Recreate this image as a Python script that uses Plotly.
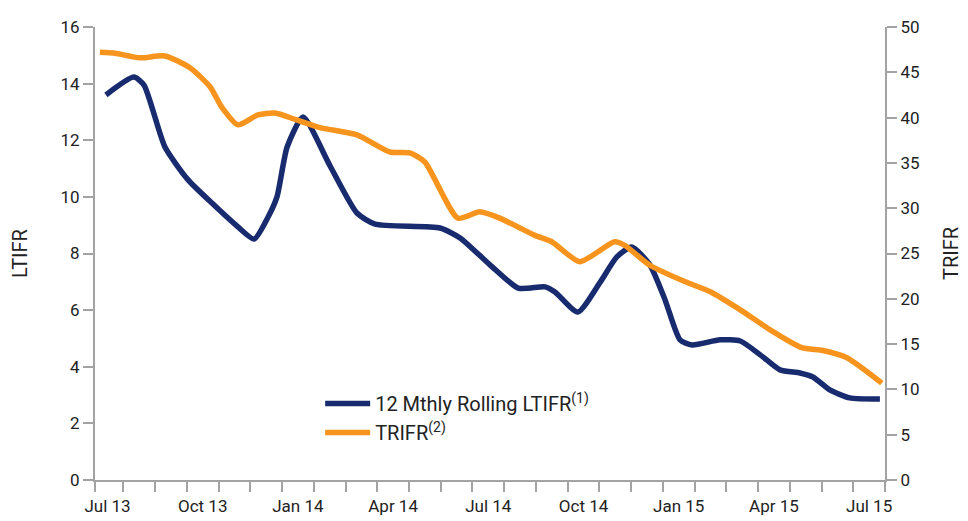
import plotly.graph_objects as go

# x = months since mid-July 2013 (0 = Jul 13, 24 = Jul 15)
ltifr_x = [-0.05, 0.83, 1.15, 1.81, 2.54, 3.29, 4.11, 4.62, 5.06, 5.34, 5.66, 6.16,
           7.01, 7.86, 8.43, 10.48, 11.11, 12.05, 12.94, 13.79, 14.10, 14.82, 15.51,
           16.05, 16.52, 17.09, 17.57, 18.04, 18.42, 19.30, 19.94, 20.57, 21.19, 21.82,
           22.23, 22.76, 23.39, 24.34]
ltifr_y = [13.6, 14.23, 13.95, 11.76, 10.6, 9.78, 8.94, 8.51, 9.29, 10.0, 11.76, 12.82,
           11.1, 9.43, 9.04, 8.9, 8.55, 7.6, 6.78, 6.82, 6.64, 5.93, 6.96,
           7.88, 8.23, 7.6, 6.36, 4.95, 4.77, 4.95, 4.91, 4.42, 3.89, 3.78,
           3.64, 3.18, 2.9, 2.86]

trifr_x = [-0.24, 0.24, 1.02, 1.81, 2.60, 3.23, 3.61, 4.11, 4.74, 5.28, 5.91, 6.69,
           7.86, 8.90, 9.53, 10.00, 11.04, 11.73, 12.36, 13.47, 14.00, 14.88, 15.98,
           16.30, 17.09, 18.19, 18.98, 19.93, 20.87, 21.88, 22.54, 23.30, 24.40]
trifr_y = [47.2, 47.1, 46.6, 46.8, 45.5, 43.4, 41.1, 39.2, 40.3, 40.5, 39.8, 38.9,
           38.1, 36.2, 36.1, 35.1, 28.9, 29.6, 28.9, 27.0, 26.3, 24.1, 26.3,
           25.9, 23.7, 21.9, 20.8, 18.8, 16.6, 14.6, 14.3, 13.5, 10.7]

label_months = [0, 3, 6, 9, 12, 15, 18, 21, 24]
label_text = ["Jul 13", "Oct 13", "Jan 14", "Apr 14", "Jul 14", "Oct 14", "Jan 15", "Apr 15", "Jul 15"]
x_start, x_end = -0.394, 24.5
month_bounds = [x_start] + [k + 0.5 for k in range(25)]

left_ticks = list(range(0, 17, 2))
right_ticks = list(range(0, 51, 5))

NAVY = "#172B6E"
ORANGE = "#F7941D"
GREY = "#A3A3A3"
TXT = "#222222"
FONT = "Roboto"
TICK_SIZE = 17

fig = go.Figure()
fig.add_trace(go.Scatter(
    x=ltifr_x, y=ltifr_y, mode="lines", name="12 Mthly Rolling LTIFR<sup>(1)</sup>",
    line=dict(color=NAVY, width=5.5, shape="spline", smoothing=0.6), legendgroup="a",
))
fig.add_trace(go.Scatter(
    x=trifr_x, y=trifr_y, mode="lines", name="TRIFR<sup>(2)</sup>", yaxis="y2",
    line=dict(color=ORANGE, width=5.5, shape="spline", smoothing=0.6), legendgroup="b",
))

# page body has an 8px default margin, so the figure is 8px smaller on each axis
fig.update_layout(
    width=960, height=513,
    margin=dict(l=87, r=83, t=19, b=41, autoexpand=False),
    paper_bgcolor="white", plot_bgcolor="white",
    font=dict(family=FONT, size=TICK_SIZE, color=TXT),
    showlegend=True,
    legend=dict(x=0.285, y=0.212, xanchor="left", yanchor="top",
                bgcolor="rgba(0,0,0,0)", tracegroupgap=0, itemwidth=45,
                font=dict(family=FONT, size=20, color=TXT)),
    xaxis=dict(
        range=[x_start, x_end], showgrid=False, zeroline=False, automargin=False,
        showline=True, linecolor=GREY, linewidth=2,
        tickmode="array", tickvals=label_months, ticktext=label_text,
        ticks="outside", ticklen=10, tickcolor="rgba(0,0,0,0)",
        tickfont=dict(family=FONT, size=TICK_SIZE, color=TXT),
        minor=dict(tickmode="array", tickvals=month_bounds, ticks="outside",
                   ticklen=10, tickwidth=2, tickcolor=GREY),
    ),
    yaxis=dict(
        range=[0, 16], tickvals=left_ticks, showgrid=False, zeroline=False, automargin=False,
        showline=True, linecolor=GREY, linewidth=2,
        ticks="outside", ticklen=10, tickwidth=2, tickcolor=GREY,
        tickfont=dict(family=FONT, size=TICK_SIZE, color=TXT),
        title=dict(text="LTIFR", standoff=30, font=dict(family=FONT, size=20, color=TXT)),
    ),
    yaxis2=dict(
        range=[0, 50], tickvals=right_ticks, overlaying="y", side="right", anchor="x",
        showgrid=False, zeroline=False, automargin=False,
        showline=True, linecolor=GREY, linewidth=2,
        ticks="outside", ticklen=10, tickwidth=2, tickcolor=GREY,
        tickfont=dict(family=FONT, size=TICK_SIZE, color=TXT),
        title=dict(text="TRIFR", standoff=25, font=dict(family=FONT, size=20, color=TXT)),
    ),
)

fig.write_html("out.html")
